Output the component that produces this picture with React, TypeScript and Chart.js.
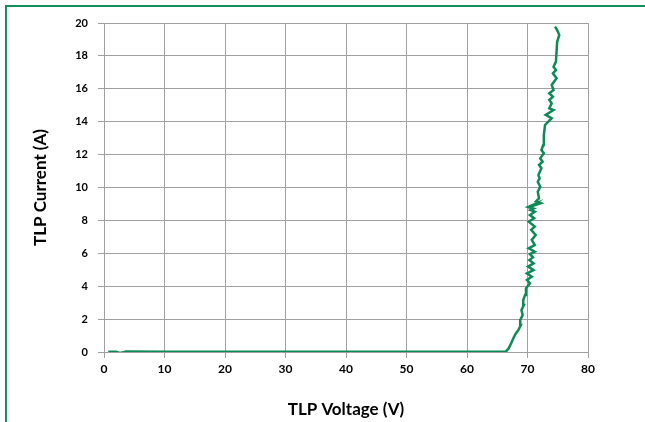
import React, { useEffect, useRef } from "react";
import { Chart, registerables } from "chart.js";

Chart.register(...registerables);

// TLP I-V curve, digitized in drawing order (bottom to top)
const voltage: number[] = [
  0.7, 2.0, 2.6, 3.2, 3.6, 10, 20, 30, 40, 50, 60, 66.4,
  66.9, 67.3, 67.7, 68.1, 68.5, 68.9, 68.8, 69.2, 69.0, 69.4, 69.3, 69.6, 69.75,
  70.4, 69.9, 70.7, 69.9, 71.0, 70.1, 71.0, 70.3, 70.9, 70.4, 71.2, 70.2, 71.2,
  70.7, 71.35, 70.6, 71.2, 70.2, 71.1, 70.4, 71.2, 70.5, 71.0, 70.1, 70.9, 70.3,
  71.4, 71.0, 72.2, 71.4, 71.9, 71.7, 72.1, 71.7, 72.0, 71.8, 72.3, 71.9, 72.5, 72.1,
  72.7, 72.3, 72.6, 72.7, 72.9, 74.0, 73.0, 74.3, 73.6, 74.0, 73.6, 74.2, 73.6,
  74.3, 74.0, 74.8, 74.2, 74.7, 74.3, 74.7, 74.8, 74.9, 75.25, 74.9, 74.55,
];
const current: number[] = [
  0.02, 0.02, -0.06, -0.02, 0.03, 0.02, 0.02, 0.02, 0.02, 0.02, 0.02, 0.02,
  0.22, 0.53, 0.87, 1.14, 1.34, 1.64, 1.95, 2.25, 2.55, 2.86, 3.16, 3.47, 3.87,
  4.18, 4.38, 4.58, 4.78, 4.98, 5.19, 5.39, 5.59, 5.75, 5.95, 6.1, 6.3, 6.5,
  6.81, 7.11, 7.42, 7.62, 7.92, 8.13, 8.33, 8.53, 8.63, 8.72, 8.82, 8.95, 8.85,
  9.02, 8.9, 9.05, 9.15, 9.34, 9.74, 10.05, 10.35, 10.55, 10.76, 11.17, 11.37, 11.57, 11.77,
  12.08, 12.28, 12.58, 13.19, 13.8, 14.21, 14.41, 14.71, 14.81, 15.12, 15.32, 15.52, 15.73,
  15.93, 16.23, 16.64, 16.94, 17.14, 17.34, 17.65, 18.26, 18.86, 19.27, 19.57, 19.78,
];

const xTicks: number[] = [0, 10, 20, 30, 40, 50, 60, 70, 80];
const yTicks: number[] = [0, 2, 4, 6, 8, 10, 12, 14, 16, 18, 20];
const xTitle = "TLP Voltage (V)";
const yTitle = "TLP Current (A)";

const FONT = "Lato, 'Open Sans', 'DejaVu Sans', sans-serif";
const GRID = "#a0a0a0";
const LINE = "#0e8a57";

export default function App() {
  const ref = useRef<HTMLCanvasElement | null>(null);

  useEffect(() => {
    if (!ref.current) return;
    const points = voltage.map((v, i) => ({ x: v, y: current[i] }));
    const chart = new Chart(ref.current, {
      type: "scatter",
      data: {
        datasets: [
          {
            data: points,
            showLine: true,
            borderColor: LINE,
            backgroundColor: LINE,
            borderWidth: 2.5,
            pointRadius: 0,
            tension: 0,
          },
        ],
      },
      options: {
        responsive: false,
        animation: false,
        layout: { padding: { left: 0, top: 23, right: 57, bottom: 0 } },
        plugins: { legend: { display: false }, tooltip: { enabled: false } },
        scales: {
          x: {
            type: "linear",
            min: xTicks[0],
            max: xTicks[xTicks.length - 1],
            afterBuildTicks: (s: any) => {
              s.ticks = xTicks.map((v) => ({ value: v }));
            },
            afterFit: (s: any) => {
              s.height = 70;
            },
            grid: { color: GRID, lineWidth: 1, tickLength: 6, drawTicks: true },
            border: { display: true, color: GRID },
            ticks: {
              color: "#000",
              padding: 4,
              maxRotation: 0,
              font: { family: FONT, size: 12, weight: "bold" },
            },
            title: {
              display: true,
              text: xTitle,
              color: "#000",
              padding: { top: 0, bottom: 2 },
              font: { family: FONT, size: 17, weight: "bold" },
            },
          },
          y: {
            type: "linear",
            min: yTicks[0],
            max: yTicks[yTicks.length - 1],
            afterBuildTicks: (s: any) => {
              s.ticks = yTicks.map((v) => ({ value: v }));
            },
            afterFit: (s: any) => {
              s.width = 104;
            },
            grid: { color: GRID, lineWidth: 1, tickLength: 6, drawTicks: true },
            border: { display: true, color: GRID },
            ticks: {
              color: "#000",
              padding: 10,
              font: { family: FONT, size: 11, weight: "bold" },
            },
            title: {
              display: true,
              text: yTitle,
              color: "#000",
              padding: { top: 30, bottom: 0 },
              font: { family: FONT, size: 17, weight: "bold" },
            },
          },
        },
      },
    });
    return () => chart.destroy();
  }, []);

  return (
    <div style={{ position: "absolute", left: 0, top: 0, width: 645, height: 422, background: "#fff" }}>
      <canvas ref={ref} width={645} height={422} style={{ position: "absolute", left: 0, top: 0, width: 645, height: 422 }} />
      <div
        style={{
          position: "absolute",
          left: 5,
          top: 5,
          width: 640,
          height: 417,
          borderLeft: "2px solid #13905a",
          borderTop: "2px solid #13905a",
          boxSizing: "border-box",
          pointerEvents: "none",
        }}
      />
    </div>
  );
}
